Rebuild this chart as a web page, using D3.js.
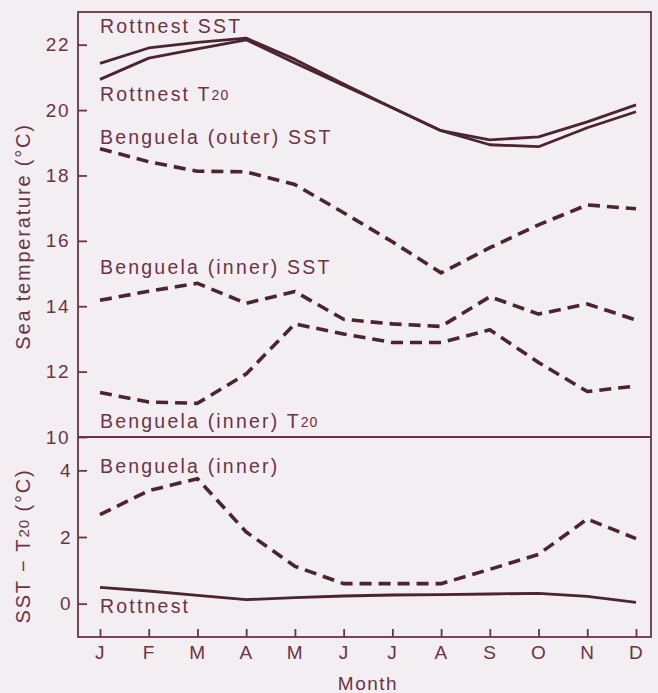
<!DOCTYPE html>
<html>
<head>
<meta charset="utf-8">
<script src="https://cdn.jsdelivr.net/npm/d3@7"></script>
<style>
  html, body { margin: 0; padding: 0; background: #f3eef1; }
  svg { display: block; }
</style>
</head>
<body>
<svg id="chart"></svg>
<script>
const months = ['J', 'F', 'M', 'A', 'M', 'J', 'J', 'A', 'S', 'O', 'N', 'D'];

// upper panel, sea temperature (°C)
const rottnestSST = [21.43, 21.9, 22.07, 22.2, 21.55, 20.8, 20.07, 19.37, 19.09, 19.18, 19.64, 20.16];
const rottnestT20 = [20.94, 21.59, 21.87, 22.15, 21.44, 20.75, 20.07, 19.37, 18.94, 18.88, 19.46, 19.95];
const benguelaOuterSST = [18.82, 18.42, 18.13, 18.11, 17.72, 16.86, 15.97, 15.02, 15.79, 16.49, 17.1, 16.98];
const benguelaInnerSST = [14.18, 14.46, 14.7, 14.09, 14.45, 13.6, 13.46, 13.38, 14.29, 13.76, 14.07, 13.58];
const benguelaInnerT20 = [11.36, 11.07, 11.03, 11.93, 13.46, 13.15, 12.89, 12.89, 13.28, 12.28, 11.39, 11.56];

// lower panel, SST - T20 (°C)
const benguelaInnerDiff = [2.67, 3.39, 3.75, 2.15, 1.12, 0.6, 0.6, 0.6, 1.03, 1.48, 2.54, 1.95];
const rottnestDiff = [0.49, 0.38, 0.25, 0.12, 0.18, 0.23, 0.26, 0.27, 0.29, 0.31, 0.22, 0.04];

const topTicks = [10, 12, 14, 16, 18, 20, 22];
const bottomTicks = [0, 2, 4];

const width = 658;
const height = 693;
const frameLeft = 78;
const frameRight = 651;
const frameTop = 12;
const frameMid = 437;
const frameBottom = 637;

const ink = '#4b2431';
const textCol = '#6b3346';
const font = '"Liberation Sans", Arial, sans-serif';

const svg = d3.select('#chart')
    .attr('width', width)
    .attr('height', height)
    .style('font-family', font);

const x = d3.scalePoint()
    .domain(d3.range(months.length))
    .range([100, 636]);

const yTop = d3.scaleLinear().domain([10, 23]).range([frameMid, frameTop]);
const yBot = d3.scaleLinear().domain([-1, 5]).range([frameBottom, frameMid]);

// frames
svg.append('rect')
    .attr('x', frameLeft).attr('y', frameTop)
    .attr('width', frameRight - frameLeft).attr('height', frameBottom - frameTop)
    .style('fill', 'none').style('stroke', textCol).style('stroke-width', 1.8);
svg.append('line')
    .attr('x1', frameLeft).attr('x2', frameRight)
    .attr('y1', frameMid).attr('y2', frameMid)
    .style('stroke', textCol).style('stroke-width', 1.8);

function styleAxis(g) {
    g.select('.domain').remove();
    g.selectAll('line').style('stroke', textCol).style('stroke-width', 1.8);
    g.selectAll('text')
        .style('font-family', font)
        .style('font-size', '19px')
        .style('letter-spacing', '1.5px')
        .style('fill', textCol);
}

svg.append('g')
    .attr('transform', `translate(${frameLeft},0)`)
    .call(d3.axisLeft(yTop).tickValues(topTicks).tickSize(-9).tickPadding(8).tickFormat(d3.format('d')))
    .call(styleAxis);

svg.append('g')
    .attr('transform', `translate(${frameLeft},0)`)
    .call(d3.axisLeft(yBot).tickValues(bottomTicks).tickSize(-9).tickPadding(6).tickFormat(d3.format('d')))
    .call(styleAxis);

svg.append('g')
    .attr('transform', `translate(0,${frameBottom})`)
    .call(d3.axisBottom(x).tickSize(-8).tickPadding(9).tickFormat(i => months[i]))
    .call(styleAxis);

// lines
function drawLine(values, y, dashed) {
    const line = d3.line()
        .x((d, i) => x(i))
        .y(d => y(d));
    svg.append('path')
        .datum(values)
        .attr('d', line)
        .style('fill', 'none')
        .style('stroke', ink)
        .style('stroke-width', dashed ? 3.6 : 2.8)
        .style('stroke-dasharray', dashed ? '12,7' : null)
        .style('stroke-linejoin', 'round');
}

drawLine(rottnestSST, yTop, false);
drawLine(rottnestT20, yTop, false);
drawLine(benguelaOuterSST, yTop, true);
drawLine(benguelaInnerSST, yTop, true);
drawLine(benguelaInnerT20, yTop, true);
drawLine(benguelaInnerDiff, yBot, true);
drawLine(rottnestDiff, yBot, false);

// series labels: [text, subscript, scale, value at baseline]
const labels = [
    ['Rottnest SST', '', yTop, 22.36],
    ['Rottnest T', '20', yTop, 20.28],
    ['Benguela (outer) SST', '', yTop, 18.96],
    ['Benguela (inner) SST', '', yTop, 14.99],
    ['Benguela (inner) T', '20', yTop, 10.28],
    ['Benguela (inner)', '', yBot, 3.92],
    ['Rottnest', '', yBot, -0.28],
];

labels.forEach(([txt, sub, y, v]) => {
    const t = svg.append('text')
        .attr('x', x(0))
        .attr('y', y(v))
        .style('font-size', '19.5px')
        .style('letter-spacing', '2.2px')
        .style('fill', textCol)
        .text(txt);
    if (sub) {
        t.append('tspan')
            .attr('dy', -1)
            .style('font-size', '14px')
            .style('letter-spacing', '1px')
            .text(sub);
    }
});

// axis titles
svg.append('text')
    .attr('transform', `translate(30,${(frameTop + frameMid) / 2 + 12}) rotate(-90)`)
    .attr('text-anchor', 'middle')
    .style('font-size', '20px')
    .style('letter-spacing', '1.8px')
    .style('fill', textCol)
    .text('Sea temperature (°C)');

const t2 = svg.append('text')
    .attr('transform', `translate(30,${(frameMid + frameBottom) / 2 + 9}) rotate(-90)`)
    .attr('text-anchor', 'middle')
    .style('font-size', '20px')
    .style('letter-spacing', '1.8px')
    .style('fill', textCol);
t2.append('tspan').text('SST \u2212 T');
t2.append('tspan').attr('dy', -1).style('font-size', '15px').style('letter-spacing', '1px').text('20');
t2.append('tspan').attr('dy', 1).text(' (°C)');

svg.append('text')
    .attr('x', 368)
    .attr('y', 690)
    .attr('text-anchor', 'middle')
    .style('font-size', '19px')
    .style('letter-spacing', '1.5px')
    .style('fill', textCol)
    .text('Month');
</script>
</body>
</html>
